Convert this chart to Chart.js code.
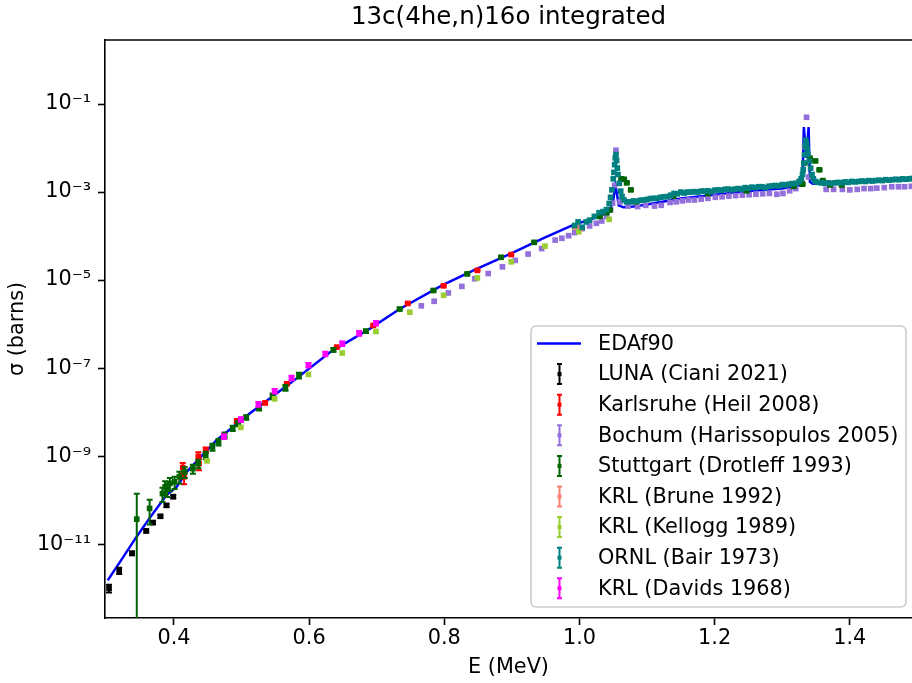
<!DOCTYPE html>
<html lang="en">
<head>
<meta charset="utf-8">
<title>13c(4he,n)16o integrated</title>
<script src="https://cdn.jsdelivr.net/npm/chart.js@4.4.0/dist/chart.umd.min.js"></script>
<style>
    html, body { margin: 0; padding: 0; background: #ffffff; }
    #chartBox { width: 912px; height: 683px; }
</style>
</head>
<body>
<div id="chartBox"><canvas id="sigmaChart" width="912" height="683"></canvas></div>
<script>
// EDAf90 fit (E in MeV, sigma in barns)
const edaE = [0.302, 0.320, 0.345, 0.364, 0.389, 0.404, 0.419, 0.463, 0.512, 0.572,
              0.631, 0.690, 0.734, 0.798, 0.848, 0.900, 0.946, 0.991, 1.030, 1.045,
              1.050, 1.053, 1.055, 1.058, 1.065, 1.080, 1.100, 1.150, 1.200, 1.250,
              1.300, 1.325, 1.330, 1.332, 1.3355, 1.339, 1.341, 1.345, 1.400, 1.450,
              1.492];
const edaSigma = [1.5e-12, 3.9e-12, 1.5e-11, 3.9e-11, 1.3e-10, 2.0e-10, 4.4e-10, 2.3e-9, 9.3e-9, 4.5e-8,
                  2.3e-7, 7.9e-7, 2.2e-6, 7.8e-6, 1.8e-5, 4.1e-5, 8.9e-5, 1.8e-4, 2.8e-4, 3.9e-4,
                  6.5e-4, 1.4e-3, 1.0e-3, 5.0e-4, 4.5e-4, 4.7e-4, 5.2e-4, 7.1e-4, 8.7e-4, 1.05e-3,
                  1.2e-3, 1.4e-3, 1.7e-3, 3.0e-2, 6.0e-3, 3.0e-2, 1.7e-3, 1.55e-3, 1.66e-3, 1.82e-3,
                  1.9e-3];

// LUNA (Ciani 2021)
const lunaE = [0.304, 0.319, 0.338, 0.359, 0.369, 0.380, 0.389, 0.399];
const lunaSigma = [1.0e-12, 2.5e-12, 6.2e-12, 2.0e-11, 3.1e-11, 4.3e-11, 7.6e-11, 1.2e-10];
const lunaErr = [2.0e-13, 4.0e-13, 6.0e-13, 1.5e-12, 2.5e-12, 3.0e-12, 6.0e-12, 9.0e-12];

// Karlsruhe (Heil 2008)
const heilE = [0.413, 0.415, 0.436, 0.437, 0.447, 0.493, 0.535, 0.567, 0.641, 0.695,
               0.746, 0.799, 0.849, 0.899];
const heilSigma = [5.5e-10, 3.4e-10, 9.8e-10, 6.8e-10, 1.38e-9, 6.3e-9, 1.62e-8, 4.4e-8, 3.0e-7, 9.3e-7,
                   2.95e-6, 7.4e-6, 1.66e-5, 3.8e-5];
const heilErr = [1.5e-10, 1.1e-10, 2.5e-10, 2.0e-10, 2.0e-10, 6.0e-10, 1.2e-9, 2.5e-9, 1.5e-8, 4.0e-8,
                 1.2e-7, 3.0e-7, 6.0e-7, 1.4e-6];

// Bochum (Harissopulos 2005)
const bochumE = [0.766, 0.785, 0.806, 0.826, 0.845, 0.865, 0.886, 0.905, 0.924, 0.944,
                 0.964, 0.974, 0.984, 0.993, 1.004, 1.015, 1.025, 1.033, 1.040, 1.046,
                 1.049, 1.052, 1.054, 1.060, 1.072, 1.086, 1.098, 1.111, 1.121, 1.134,
                 1.143, 1.152, 1.161, 1.170, 1.180, 1.190, 1.201, 1.211, 1.221, 1.231,
                 1.241, 1.251, 1.261, 1.271, 1.281, 1.292, 1.301, 1.311, 1.320, 1.329,
                 1.333, 1.336, 1.339, 1.365, 1.376, 1.389, 1.400, 1.411, 1.421, 1.431,
                 1.440, 1.451, 1.462, 1.472, 1.481, 1.491];
const bochumSigma = [2.6e-6, 3.3e-6, 5.1e-6, 7.2e-6, 1.07e-5, 1.41e-5, 2.0e-5, 2.8e-5, 3.9e-5, 5.2e-5,
                     8.1e-5, 8.9e-5, 1.02e-4, 1.2e-4, 1.48e-4, 1.7e-4, 1.95e-4, 2.2e-4, 2.8e-4, 4.0e-4,
                     5.6e-4, 1.41e-3, 8.9e-3, 6.0e-4, 4.8e-4, 4.7e-4, 5.0e-4, 4.8e-4, 5.0e-4, 5.8e-4,
                     6.0e-4, 6.3e-4, 6.6e-4, 6.6e-4, 6.9e-4, 7.2e-4, 7.6e-4, 7.8e-4, 8.1e-4, 8.3e-4,
                     8.5e-4, 8.7e-4, 8.9e-4, 9.1e-4, 9.3e-4, 8.9e-4, 9.3e-4, 1.07e-3, 1.2e-3, 1.66e-3,
                     1.07e-2, 5.0e-2, 2.2e-3, 1.15e-3, 1.15e-3, 1.15e-3, 1.12e-3, 1.15e-3, 1.2e-3, 1.2e-3,
                     1.23e-3, 1.26e-3, 1.32e-3, 1.32e-3, 1.32e-3, 1.35e-3];

// Stuttgart (Drotleff 1993)
const drotE = [0.345, 0.364, 0.383, 0.387, 0.390, 0.394, 0.401, 0.408, 0.416, 0.428,
               0.436, 0.447, 0.457, 0.466, 0.475, 0.487, 0.495, 0.507, 0.526, 0.546,
               0.565, 0.585, 0.636, 0.684, 0.734, 0.784, 0.834, 0.884, 0.933, 0.993,
               1.030, 1.040, 1.045, 1.062, 1.066, 1.070, 1.076, 1.083, 1.139, 1.190,
               1.247, 1.317, 1.330, 1.333, 1.341, 1.349, 1.355, 1.360, 1.371, 1.388];
const drotSigma = [3.7e-11, 6.5e-11, 1.41e-10, 2.0e-10, 1.78e-10, 2.4e-10, 2.6e-10, 3.4e-10, 4.4e-10, 5.2e-10,
                   6.8e-10, 1.05e-9, 1.62e-9, 2.1e-9, 3.0e-9, 4.3e-9, 5.5e-9, 7.6e-9, 1.29e-8, 2.3e-8,
                   3.6e-8, 6.8e-8, 2.6e-7, 6.9e-7, 2.2e-6, 5.8e-6, 1.38e-5, 3.3e-5, 7.2e-5, 1.66e-4,
                   2.8e-4, 3.4e-4, 3.9e-4, 2.0e-3, 1.95e-3, 1.62e-3, 1.12e-3, 6.0e-4, 8.1e-4, 9.3e-4,
                   1.07e-3, 1.35e-3, 1.51e-3, 4.5e-3, 5.9e-3, 5.1e-3, 3.2e-3, 1.82e-3, 1.45e-3, 1.45e-3];
const drotErr = [1.03e-10, 3.7e-11, 5.0e-11, 7.0e-11, 6.0e-11, 8.0e-11, 8.0e-11, 1.0e-10, 1.2e-10, 1.2e-10,
                 1.5e-10, 2.0e-10, 3.0e-10, 3.5e-10, 4.5e-10, 6.0e-10, 7.0e-10, 9.0e-10, 2.0e-9, 3.5e-9,
                 5.5e-9, 1.0e-8, 2.5e-8, 6.0e-8, 1.5e-7, 4.0e-7, 8.0e-7, 1.8e-6, 3.5e-6, 8.0e-6,
                 1.4e-5, 1.7e-5, 2.0e-5, 1.0e-4, 1.0e-4, 8.0e-5, 6.0e-5, 3.0e-5, 4.0e-5, 5.0e-5,
                 5.0e-5, 7.0e-5, 7.0e-5, 2.0e-4, 3.0e-4, 2.5e-4, 1.6e-4, 9.0e-5, 7.0e-5, 7.0e-5];

// KRL (Brune 1992)
const bruneE = [0.995, 1.001];
const bruneSigma = [1.58e-4, 1.48e-4];
const bruneErr = [8.0e-6, 8.0e-6];

// KRL (Kellogg 1989)
const kelloggE = [0.449, 0.499, 0.549, 0.599, 0.649, 0.699, 0.749, 0.799, 0.849, 0.899,
                  0.949, 0.999, 1.044];
const kelloggSigma = [7.8e-10, 4.5e-9, 2.0e-8, 7.2e-8, 2.2e-7, 6.8e-7, 1.86e-6, 4.5e-6, 1.12e-5, 2.6e-5,
                      5.9e-5, 1.26e-4, 2.4e-4];

// ORNL (Bair 1973)
const bairE = [0.993, 0.998, 1.004, 1.010, 1.015, 1.022, 1.029, 1.035, 1.040, 1.044,
               1.046, 1.048, 1.050, 1.051, 1.052, 1.053, 1.054, 1.055, 1.056, 1.057,
               1.059, 1.061, 1.063, 1.066, 1.070, 1.075, 1.080, 1.085, 1.090, 1.095,
               1.100, 1.105, 1.110, 1.115, 1.120, 1.125, 1.130, 1.135, 1.140, 1.145,
               1.150, 1.155, 1.160, 1.165, 1.170, 1.175, 1.180, 1.185, 1.190, 1.195,
               1.200, 1.205, 1.210, 1.215, 1.220, 1.225, 1.230, 1.235, 1.240, 1.245,
               1.250, 1.255, 1.260, 1.265, 1.270, 1.275, 1.280, 1.285, 1.290, 1.295,
               1.300, 1.305, 1.310, 1.315, 1.320, 1.325, 1.328, 1.330, 1.331, 1.332,
               1.333, 1.334, 1.335, 1.336, 1.337, 1.338, 1.340, 1.342, 1.344, 1.346,
               1.349, 1.353, 1.358, 1.363, 1.368, 1.373, 1.378, 1.383, 1.388, 1.393,
               1.398, 1.403, 1.408, 1.413, 1.418, 1.423, 1.428, 1.433, 1.438, 1.443,
               1.448, 1.453, 1.458, 1.463, 1.468, 1.473, 1.478, 1.483, 1.488, 1.493];
const bairSigma = [1.74e-4, 2.1e-4, 1.58e-4, 2.1e-4, 2.3e-4, 2.8e-4, 3.4e-4, 3.6e-4, 4.0e-4, 5.5e-4,
                   7.6e-4, 1.12e-3, 2.0e-3, 2.8e-3, 4.2e-3, 6.0e-3, 7.1e-3, 5.2e-3, 3.5e-3, 2.5e-3,
                   1.58e-3, 1.05e-3, 7.9e-4, 6.6e-4, 6.0e-4, 6.0e-4, 6.3e-4, 6.2e-4, 6.5e-4, 6.6e-4,
                   6.8e-4, 7.1e-4, 7.2e-4, 7.2e-4, 7.6e-4, 7.8e-4, 7.9e-4, 8.5e-4, 9.3e-4, 9.1e-4,
                   1.0e-3, 9.5e-4, 1.0e-3, 1.0e-3, 1.02e-3, 1.0e-3, 1.05e-3, 1.05e-3, 1.07e-3, 1.02e-3,
                   1.10e-3, 1.12e-3, 1.10e-3, 1.15e-3, 1.17e-3, 1.12e-3, 1.17e-3, 1.20e-3, 1.17e-3, 1.26e-3,
                   1.23e-3, 1.29e-3, 1.26e-3, 1.32e-3, 1.32e-3, 1.26e-3, 1.35e-3, 1.38e-3, 1.41e-3, 1.38e-3,
                   1.48e-3, 1.45e-3, 1.51e-3, 1.55e-3, 1.58e-3, 1.74e-3, 2.0e-3, 2.5e-3, 3.2e-3, 4.5e-3,
                   7.1e-3, 1.12e-2, 1.51e-2, 1.26e-2, 9.5e-3, 7.1e-3, 5.0e-3, 3.5e-3, 2.5e-3, 2.0e-3,
                   1.74e-3, 1.66e-3, 1.62e-3, 1.58e-3, 1.62e-3, 1.58e-3, 1.62e-3, 1.66e-3, 1.62e-3, 1.70e-3,
                   1.66e-3, 1.74e-3, 1.70e-3, 1.74e-3, 1.78e-3, 1.74e-3, 1.82e-3, 1.78e-3, 1.82e-3, 1.86e-3,
                   1.82e-3, 1.91e-3, 1.86e-3, 1.91e-3, 1.95e-3, 1.91e-3, 2.0e-3, 1.95e-3, 2.0e-3, 2.04e-3];

// KRL (Davids 1968)
const davidsE = [0.474, 0.499, 0.525, 0.549, 0.574, 0.599, 0.624, 0.649, 0.674, 0.699];
const davidsSigma = [2.8e-9, 6.8e-9, 1.51e-8, 3.0e-8, 6.0e-8, 1.17e-7, 2.1e-7, 3.6e-7, 6.2e-7, 1.05e-6];
const davidsErr = [3.4e-10, 8.0e-10, 1.8e-9, 3.6e-9, 7.0e-9, 1.4e-8, 2.5e-8, 4.3e-8, 7.4e-8, 1.26e-7];

// Axis ticks
const xTickValues = [0.4, 0.6, 0.8, 1.0, 1.2, 1.4];
const xTickLabels = ['0.4', '0.6', '0.8', '1.0', '1.2', '1.4'];
const yTickValues = [1e-11, 1e-9, 1e-7, 1e-5, 1e-3, 1e-1];
const yTickLabels = ['10\u207B\u00B9\u00B9', '10\u207B\u2079', '10\u207B\u2077', '10\u207B\u2075', '10\u207B\u00B3', '10\u207B\u00B9'];

const FONT = 'DejaVu Sans';
const TEXT_SIZE = 20.8;

function toPoints(xs, ys) {
    return xs.map((x, i) => ({ x: x, y: ys[i] }));
}

// Experimental sets, in plotting order
const experiments = [
    { label: 'LUNA (Ciani 2021)', color: '#000000', e: lunaE, s: lunaSigma, err: lunaErr },
    { label: 'Karlsruhe (Heil 2008)', color: '#ff0000', e: heilE, s: heilSigma, err: heilErr },
    { label: 'Bochum (Harissopulos 2005)', color: '#9370db', e: bochumE, s: bochumSigma, err: null },
    { label: 'Stuttgart (Drotleff 1993)', color: '#006400', e: drotE, s: drotSigma, err: drotErr },
    { label: 'KRL (Brune 1992)', color: '#fa8072', e: bruneE, s: bruneSigma, err: bruneErr },
    { label: 'KRL (Kellogg 1989)', color: '#9acd32', e: kelloggE, s: kelloggSigma, err: null },
    { label: 'ORNL (Bair 1973)', color: '#008080', e: bairE, s: bairSigma, err: null },
    { label: 'KRL (Davids 1968)', color: '#ff00ff', e: davidsE, s: davidsSigma, err: davidsErr }
];

// Error bars are drawn right before each dataset's markers
const errorBarPlugin = {
    id: 'errorBars',
    beforeDatasetDraw(chart, args) {
        const ds = chart.data.datasets[args.index];
        if (!ds.errors) return;
        const ctx = chart.ctx;
        const xScale = chart.scales.x;
        const yScale = chart.scales.y;
        const area = chart.chartArea;
        ctx.save();
        ctx.beginPath();
        ctx.rect(area.left, area.top, area.right - area.left, area.bottom - area.top);
        ctx.clip();
        ctx.strokeStyle = ds.backgroundColor;
        ctx.lineWidth = 2;
        ds.data.forEach((p, i) => {
            const err = ds.errors[i];
            const px = xScale.getPixelForValue(p.x);
            const top = yScale.getPixelForValue(p.y + err);
            const low = p.y - err;
            const bottom = low > 0 ? yScale.getPixelForValue(low) : area.bottom + 5;
            ctx.beginPath();
            ctx.moveTo(px, top);
            ctx.lineTo(px, bottom);
            ctx.moveTo(px - 3, top);
            ctx.lineTo(px + 3, top);
            if (low > 0) {
                ctx.moveTo(px - 3, bottom);
                ctx.lineTo(px + 3, bottom);
            }
            ctx.stroke();
        });
        ctx.restore();
    }
};

// Top spine of the axes frame
const framePlugin = {
    id: 'frameTop',
    afterDatasetsDraw(chart) {
        const ctx = chart.ctx;
        const area = chart.chartArea;
        ctx.save();
        ctx.strokeStyle = '#000000';
        ctx.lineWidth = 1.6;
        ctx.beginPath();
        ctx.moveTo(area.left - 0.8, area.top);
        ctx.lineTo(area.right, area.top);
        ctx.stroke();
        ctx.restore();
    }
};

// Legend box in the lower right of the axes
const legendPlugin = {
    id: 'boxLegend',
    afterDraw(chart) {
        const ctx = chart.ctx;
        const area = chart.chartArea;
        const boxW = 375, boxH = 281;
        const boxLeft = area.right - 6 - boxW;
        const boxTop = area.bottom - 11 - boxH;
        ctx.save();
        ctx.beginPath();
        ctx.roundRect(boxLeft, boxTop, boxW, boxH, 5);
        ctx.fillStyle = 'rgba(255,255,255,0.8)';
        ctx.fill();
        ctx.strokeStyle = '#cccccc';
        ctx.lineWidth = 1.6;
        ctx.stroke();

        ctx.font = TEXT_SIZE + 'px "' + FONT + '"';
        ctx.textBaseline = 'middle';
        chart.data.datasets.forEach((ds, i) => {
            const y = boxTop + 17.5 + i * 30.6;
            const color = ds.showLine ? ds.borderColor : ds.backgroundColor;
            ctx.strokeStyle = color;
            ctx.fillStyle = color;
            if (ds.showLine) {
                ctx.lineWidth = 2.5;
                ctx.beginPath();
                ctx.moveTo(boxLeft + 6, y);
                ctx.lineTo(boxLeft + 50, y);
                ctx.stroke();
            } else {
                const hx = boxLeft + 28.5;
                ctx.lineWidth = 2;
                ctx.beginPath();
                ctx.moveTo(hx, y - 10);
                ctx.lineTo(hx, y + 10);
                ctx.moveTo(hx - 2.5, y - 10);
                ctx.lineTo(hx + 2.5, y - 10);
                ctx.moveTo(hx - 2.5, y + 10);
                ctx.lineTo(hx + 2.5, y + 10);
                ctx.stroke();
                ctx.fillRect(hx - 2, y - 2, 4, 4);
            }
            ctx.fillStyle = '#000000';
            ctx.fillText(ds.label, boxLeft + 67, y + 1);
        });
        ctx.restore();
    }
};

function buildDatasets() {
    const sets = [{
        label: 'EDAf90',
        data: toPoints(edaE, edaSigma),
        showLine: true,
        borderColor: '#0000ff',
        backgroundColor: '#0000ff',
        borderWidth: 2.5,
        pointRadius: 0,
        tension: 0,
        order: 0
    }];
    experiments.forEach((exp, i) => {
        sets.push({
            label: exp.label,
            data: toPoints(exp.e, exp.s),
            errors: exp.err,
            showLine: false,
            pointStyle: 'rect',
            pointRadius: 4,
            pointBorderWidth: 0,
            backgroundColor: exp.color,
            borderColor: exp.color,
            order: -(i + 1)
        });
    });
    return sets;
}

function initChart() {
    const ctx = document.getElementById('sigmaChart').getContext('2d');
    return new Chart(ctx, {
        type: 'scatter',
        data: { datasets: buildDatasets() },
        options: {
            responsive: false,
            devicePixelRatio: 1,
            animation: false,
            events: [],
            layout: { autoPadding: false, padding: { left: 0, right: 0, top: 0, bottom: 0 } },
            plugins: {
                legend: { display: false },
                tooltip: { enabled: false },
                title: {
                    display: true,
                    text: '13c(4he,n)16o integrated',
                    fullSize: false,
                    color: '#000000',
                    font: { family: FONT, size: 24.5, weight: 'normal' },
                    padding: { top: 2.5, bottom: 8.1 }
                }
            },
            scales: {
                x: {
                    type: 'linear',
                    min: 0.298,
                    max: 1.492,
                    afterBuildTicks: (scale) => {
                        scale.ticks = xTickValues.map(v => ({ value: v }));
                    },
                    afterFit: (scale) => { scale.height = 65; },
                    ticks: {
                        autoSkip: false,
                        maxRotation: 0,
                        padding: 1,
                        color: '#000000',
                        font: { family: FONT, size: TEXT_SIZE },
                        callback: (value, index) => xTickLabels[index]
                    },
                    grid: {
                        drawOnChartArea: false,
                        drawTicks: true,
                        tickLength: 7,
                        tickWidth: 1.6,
                        tickColor: '#000000'
                    },
                    border: { display: true, color: '#000000', width: 1.6 },
                    title: {
                        display: true,
                        text: 'E (MeV)',
                        color: '#000000',
                        font: { family: FONT, size: TEXT_SIZE },
                        padding: { top: 0, bottom: 3 }
                    }
                },
                y: {
                    type: 'logarithmic',
                    min: 2.1e-13,
                    max: 2.85,
                    afterBuildTicks: (scale) => {
                        scale.ticks = yTickValues.map(v => ({ value: v }));
                    },
                    afterFit: (scale) => { scale.width = 105; },
                    ticks: {
                        autoSkip: false,
                        padding: 7,
                        color: '#000000',
                        font: { family: FONT, size: TEXT_SIZE },
                        callback: (value, index) => yTickLabels[index]
                    },
                    grid: {
                        drawOnChartArea: false,
                        drawTicks: true,
                        tickLength: 7,
                        tickWidth: 1.6,
                        tickColor: '#000000'
                    },
                    border: { display: true, color: '#000000', width: 1.6 },
                    title: {
                        display: true,
                        text: '\u03C3 (barns)',
                        color: '#000000',
                        font: { family: FONT, size: TEXT_SIZE },
                        padding: { top: 5, bottom: 0 }
                    }
                }
            }
        },
        plugins: [errorBarPlugin, framePlugin, legendPlugin]
    });
}

initChart();
</script>
</body>
</html>
